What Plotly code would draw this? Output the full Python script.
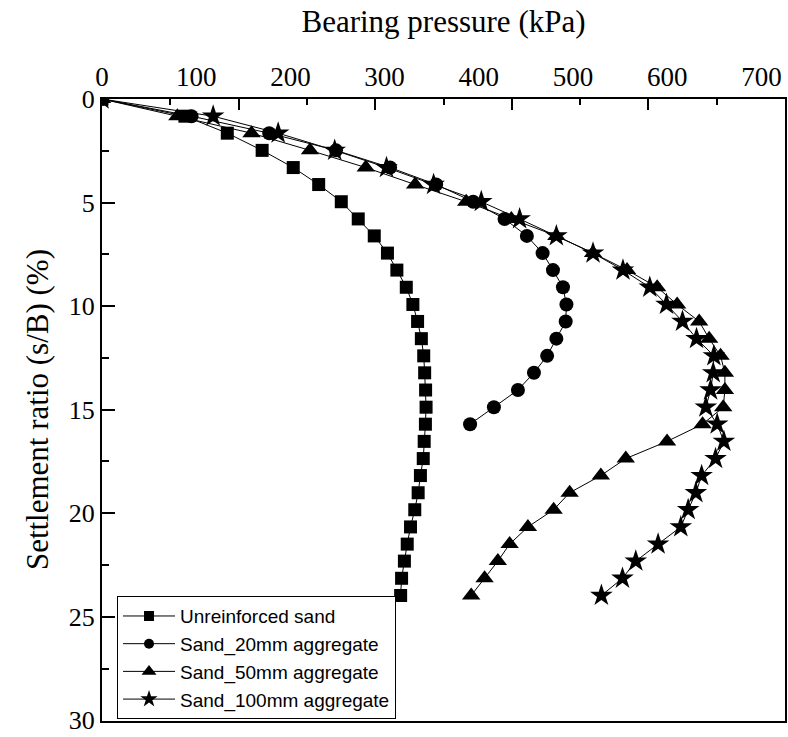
import plotly.graph_objects as go

# Settlement ratio s/B (%) at each load step
settlement = [0, 0.83, 1.65, 2.48, 3.31, 4.13, 4.96, 5.79, 6.61, 7.44,
              8.26, 9.09, 9.92, 10.74, 11.57, 12.40, 13.22, 14.05, 14.88, 15.70,
              16.53, 17.36, 18.18, 19.01, 19.83, 20.66, 21.49, 22.31, 23.14, 23.97]

# Bearing pressure (kPa) for each test
unreinforced = [0, 88, 133, 170, 203, 230, 254, 272, 289, 303,
                313, 323, 330, 335, 339, 341.5, 342.5, 343.5, 344, 343.3,
                342, 341, 338, 335.6, 332, 327.5, 324, 321, 318, 317]
agg_20mm = [0, 95, 177.5, 248.4, 305.8, 354.7, 394, 427.3, 451, 467.7,
            478.7, 489.3, 493, 492.2, 482.3, 472.5, 458.5, 441.5, 416, 390.7]
agg_50mm = [0, 80, 158.7, 220.8, 280, 332.4, 386.6, 434.5, 482.3, 521.2,
            557.3, 589.3, 610.5, 633.9, 644.5, 656.6, 661.2, 661.2, 659.4, 637.5,
            599.8, 556, 529.5, 496.4, 479.4, 452.1, 432.7, 420.2, 406.1, 391.9]
agg_100mm = [0, 118, 187, 247, 302, 352, 402.6, 443.3, 482.3, 521.2,
             553, 581.5, 599.2, 616.2, 631.1, 649.5, 648.8, 646, 641, 653,
             660.1, 651.3, 636.5, 630.4, 622.2, 614.4, 590.3, 566.6, 552.5, 530.1]

# name, data, marker symbol, marker size on plot, marker size in legend
series = [
    ("Unreinforced sand", unreinforced, "square", 13, 10),
    ("Sand_20mm aggregate", agg_20mm, "circle", 14, 10),
    ("Sand_50mm aggregate", agg_50mm, "triangle-up", 16, 13),
    ("Sand_100mm aggregate", agg_100mm, "star", 17, 13),
]

x_tick_labels = [0, 100, 200, 300, 400, 500, 600, 700]
y_tick_labels = [0, 5, 10, 15, 20, 25, 30]

fig = go.Figure()
for name, pressure, symbol, size, legend_size in series:
    fig.add_trace(go.Scatter(
        x=pressure, y=settlement[:len(pressure)], name=name,
        mode="lines+markers", showlegend=False,
        line=dict(color="black", width=1),
        marker=dict(symbol=symbol, size=size, color="black"),
    ))
    # legend entry with smaller symbol
    fig.add_trace(go.Scatter(
        x=[None], y=[None], name=name, mode="lines+markers",
        line=dict(color="black", width=1),
        marker=dict(symbol=symbol, size=legend_size, color="black"),
    ))

serif = "Liberation Serif"
fig.update_layout(
    width=788, height=737,
    margin=dict(l=102, r=3, t=99, b=16, autoexpand=False),
    paper_bgcolor="white", plot_bgcolor="white",
    showlegend=True,
    xaxis=dict(
        side="top", range=[0, 725], tickvals=x_tick_labels, ticks="",
        showgrid=False, zeroline=False, showline=True, mirror=True,
        linecolor="black", linewidth=2, automargin=False,
        tickfont=dict(family=serif, size=27, color="black"),
        title=dict(text="Bearing pressure (kPa)", standoff=20,
                   font=dict(family=serif, size=31, color="black")),
    ),
    # tick marks on the top frame
    xaxis2=dict(
        overlaying="x", side="top", anchor="y", range=[0, 10],
        tickmode="linear", tick0=0, dtick=2, ticks="inside", ticklen=11,
        tickwidth=2, tickcolor="black", showticklabels=False,
        showgrid=False, zeroline=False, showline=False, automargin=False,
        minor=dict(tickmode="linear", tick0=0, dtick=1, ticks="inside",
                   ticklen=6, tickwidth=2, tickcolor="black", showgrid=False),
    ),
    yaxis=dict(
        range=[30.03, 0], tickvals=y_tick_labels, ticks="inside", ticklen=13,
        tickwidth=2, tickcolor="black", ticklabeloverflow="allow",
        automargin=False,
        minor=dict(tickvals=[2.5, 7.5, 12.5, 17.5, 22.5, 27.5], ticks="inside",
                   ticklen=7, tickwidth=2, tickcolor="black", showgrid=False),
        showgrid=False, zeroline=False, showline=True, mirror=True,
        linecolor="black", linewidth=2,
        tickfont=dict(family=serif, size=26, color="black"),
    ),
    legend=dict(
        x=0.022, y=0.003, xanchor="left", yanchor="bottom",
        bgcolor="white", bordercolor="black", borderwidth=1,
        font=dict(family="Liberation Sans", size=19, color="black"),
        itemwidth=52, tracegroupgap=0,
    ),
    annotations=[dict(
        text="Settlement ratio (s/B) (%)", textangle=-90,
        xref="paper", yref="paper", x=-0.095, y=0.5,
        xanchor="center", yanchor="middle", showarrow=False,
        font=dict(family=serif, size=31, color="black"),
    )],
)

# empty trace so the tick axis is drawn
fig.add_trace(go.Scatter(x=[], y=[], xaxis="x2", showlegend=False, hoverinfo="skip"))

fig.write_html("out.html")
